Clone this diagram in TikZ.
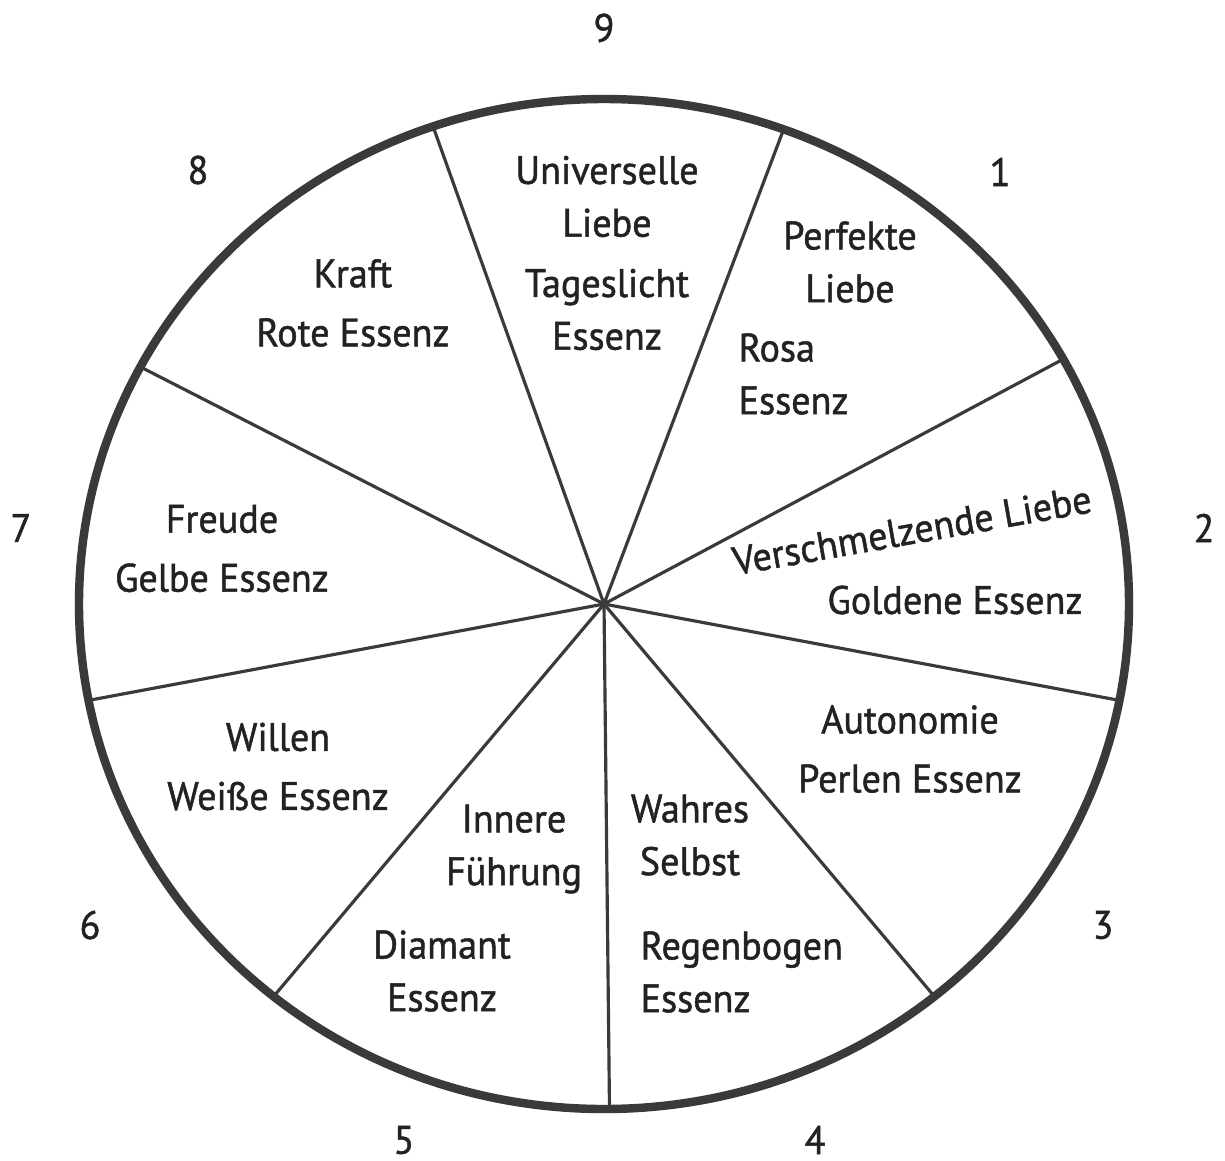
\documentclass[tikz,border=0pt]{standalone}
\usepackage{fontspec}
\setmainfont[FakeBold=1.2, FakeStretch=0.96]{PT Sans}
\usepackage{tikz}
\usetikzlibrary{calc}
\definecolor{inkgray}{HTML}{3A3A3A}
\definecolor{textblack}{HTML}{222222}
\tikzset{
  %% Outer rim of the wheel
  rim/.style={draw=inkgray, line width=2.4pt},
  %% Spoke between two sectors
  spoke/.style={draw=inkgray, line width=0.9pt},
  %% Sector label (two stacked words)
  lbl/.style={align=center, inner sep=0pt, text=textblack,
              font=\fontsize{11.3}{15}\selectfont},
  %% Sector label (name over essence, wider spacing)
  lblwide/.style={lbl, font=\fontsize{11.3}{16.8}\selectfont},
  %% Number outside the wheel
  num/.style={inner sep=0pt, text=textblack,
              font=\fontsize{11.3}{13}\selectfont},
}

\begin{document}
\begin{tikzpicture}

  \useasboundingbox (-6.04,-5.56) rectangle (6.21,6.04);

  %% ---- Wheel ----
  \foreach \a in {109,70,29,-11,-51,-89.4,-129,-169,152}
    \draw[spoke] (0,0) -- ({5.25*cos(\a)},{5.05*sin(\a)});
  \draw[rim] (0,0) ellipse [x radius=5.25cm, y radius=5.05cm];

  %% ---- Sector labels ----
  \node[lbl] (univ)  at (0.03,4.075) {Universelle\\Liebe};
  \node[lbl] (tages) at (0.03,2.945) {Tageslicht\\Essenz};
  \node[lbl] (perf)  at (2.46,3.42)  {Perfekte\\Liebe};
  \node[lbl, align=left, anchor=west] (rosa) at (1.34,2.30)
       {Rosa\\Essenz};
  \node[lbl, rotate=10] (versch) at (3.08,0.74) {Verschmelzende Liebe};
  \node[lbl] (gold)  at (3.51,0.04)  {Goldene Essenz};
  \node[lblwide] (auton) at (3.06,-1.45) {Autonomie\\Perlen Essenz};
  \node[lbl] (wahr)  at (0.86,-2.31) {Wahres\\Selbst};
  \node[lbl, align=left, anchor=west] (regen) at (0.36,-3.68)
       {Regenbogen\\Essenz};
  \node[lbl] (inner) at (-0.90,-2.45) {Innere\\Führung};
  \node[lbl] (diam)  at (-1.62,-3.67) {Diamant\\Essenz};
  \node[lblwide] (will)  at (-3.26,-1.625) {Willen\\Weiße Essenz};
  \node[lblwide] (freu)  at (-3.82,0.555)  {Freude\\Gelbe Essenz};
  \node[lblwide] (kraft) at (-2.51,3.01)   {Kraft\\Rote Essenz};

  %% ---- Numbers ----
  \node[num] (n9) at (0,5.76)      {9};
  \node[num] (n1) at (3.96,4.32)   {1};
  \node[num] (n2) at (6.00,0.76)   {2};
  \node[num] (n3) at (4.99,-3.21)  {3};
  \node[num] (n4) at (2.11,-5.36)  {4};
  \node[num] (n5) at (-2.00,-5.36) {5};
  \node[num] (n6) at (-5.14,-3.21) {6};
  \node[num] (n7) at (-5.83,0.76)  {7};
  \node[num] (n8) at (-4.06,4.34)  {8};

\end{tikzpicture}
\end{document}
